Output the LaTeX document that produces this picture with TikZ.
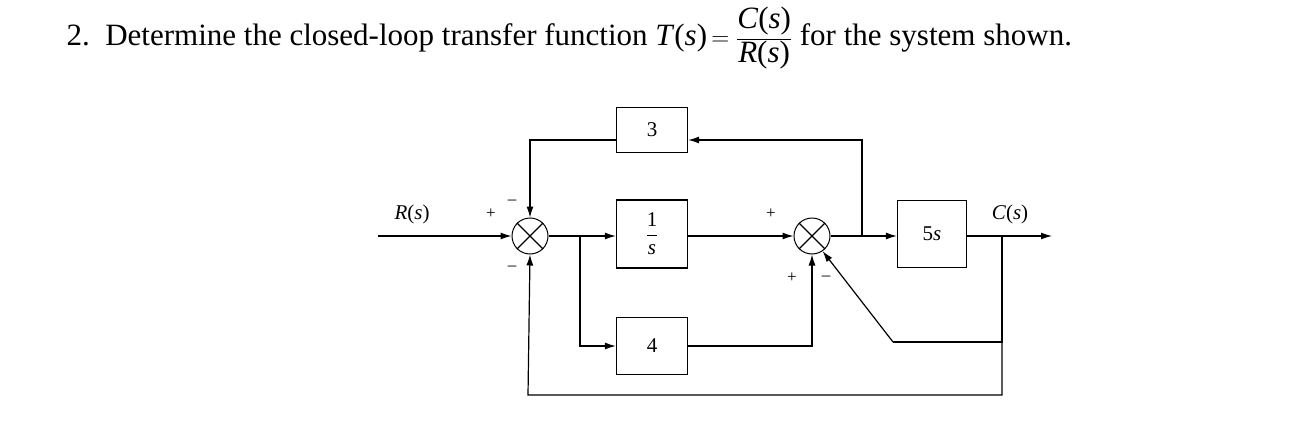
\documentclass[tikz,border=0pt]{standalone}
\usepackage{fontspec}
\setmainfont{Liberation Serif}
\usetikzlibrary{arrows.meta}
\begin{document}
\begin{tikzpicture}[x=1pt,y=-1pt,
  blk/.style={draw,line width=1.2pt,minimum width=71pt,inner sep=0pt,font=\fontsize{21}{21}\selectfont},
  sum/.style={draw,circle,line width=1pt,minimum size=36pt,inner sep=0pt},
  ln/.style={line width=1.2pt},
  ar/.style={ln,-{Latex[length=11pt,width=7pt]}},
  sg/.style={font=\fontsize{17}{17}\selectfont},
  lab/.style={font=\fontsize{21}{21}\selectfont}]
\useasboundingbox (0,0) rectangle (1295,428);
\node[anchor=west,font=\fontsize{31}{31}\selectfont] (title) at (63,38)
 {2.\enspace Determine the closed-loop transfer function \textit{T}(\textit{s})$\,=\displaystyle\frac{\hbox{\textit{C}(\textit{s})}}{\hbox{\textit{R}(\textit{s})}}$ for the system shown.};
\node[sum] (s1) at (530,236) {};
\draw[ln] (s1.45)--(s1.225) (s1.135)--(s1.315);
\node[sum] (s2) at (812,236) {};
\draw[ln] (s2.45)--(s2.225) (s2.135)--(s2.315);
\node[blk,minimum height=45pt] (b3) at (652,130) {3};
\node[blk,minimum height=68pt] (b1) at (652,234) {$\displaystyle\frac{\hbox{1}}{\hbox{\textit{s}}}$};
\node[blk,minimum height=57pt] (b4) at (652,346) {4};
\node[blk,minimum width=69pt,minimum height=67pt] (b5) at (932,234) {5\textit{s}};
\coordinate (rin) at (378,236);
\coordinate (cout) at (1052,236);
\coordinate (j1) at (580,236);
\coordinate (j2) at (862,236);
\coordinate (j3) at (1002,236);
\coordinate (d) at (893,342);
\draw[ar] (rin)--(s1.west);
\draw[ar] (s1.east)--(b1.west|-s1);
\draw[ar] (j1)|-(b4.west);
\draw[ar] (b1.east|-s2)--(s2.west);
\draw[ar] (b4.east)-|(s2.south);
\draw[ar] (s2.east)--(b5.west|-s2);
\draw[ar] (j2)|-(b3.east|-0,140);
\draw[ar] (b3.west|-0,140)-|(s1.north);
\draw[ar] (b5.east|-s2)--(cout);
\draw[ar] (j3)|-(528,395)--(s1.south);
\draw[ln] (j3)|-(d);
\draw[ar] (d)--(s2.-55);
\node[lab] at (412,214) {\textit{R}(\textit{s})};
\node[lab] at (1010,214) {\textit{C}(\textit{s})};
\node[sg] at (491,214) {+};
\node[sg] at (512,202) {--};
\node[sg] at (512,268) {--};
\node[sg] at (771,214) {+};
\node[sg] at (792,278) {+};
\node[sg] at (826,278) {--};
\end{tikzpicture}
\end{document}
